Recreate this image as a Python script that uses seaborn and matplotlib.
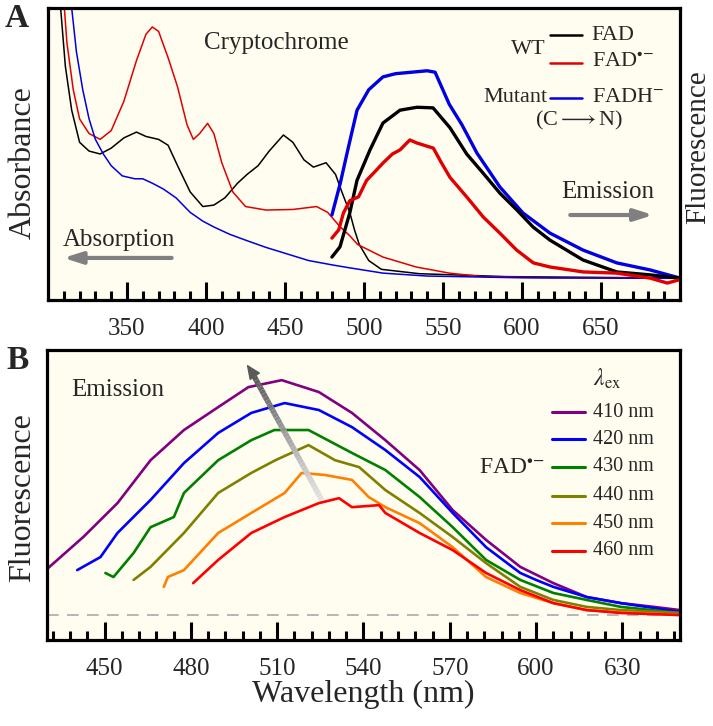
import numpy as np
import pandas as pd
import matplotlib
matplotlib.use('Agg')
import matplotlib.pyplot as plt
from matplotlib.collections import LineCollection
import seaborn as sns

sns.set_style('ticks')
plt.rcParams['font.family'] = ['Liberation Serif', 'DejaVu Serif']
plt.rcParams['mathtext.fontset'] = 'stix'

# ---- panel A: absorption (thin) ----
fad_abs_nm = [305, 308, 311, 315, 320, 326, 333, 340, 348, 356, 362, 370, 376, 382, 390, 398, 405, 412,
              420, 426, 433, 440, 449, 455, 462, 468, 476, 482, 486, 491, 494, 497, 503, 511, 535, 590, 700]
fad_abs_y = [140, 100, 80, 65, 54, 51, 50, 52, 55.5, 57.5, 56, 55, 53, 46, 37, 32, 32.5, 35,
             40, 43, 46, 51, 56.5, 54, 48, 45.5, 47, 43, 37, 30, 24, 19, 13.5, 10.5, 9, 8, 7.5]

sq_abs_nm = [306, 309, 312, 316, 320, 326, 333, 340, 348, 356, 362, 366, 370, 376, 382, 388, 392, 396,
             401, 405, 410, 417, 425, 438, 455, 470, 477, 485, 491, 496, 512, 533, 554, 575, 620, 700]
sq_abs_y = [140, 110, 88, 72, 62, 57, 55, 58, 68, 82, 91, 93.5, 92, 83, 73, 60, 55, 57,
            60.5, 57, 47, 37, 32, 30.8, 31, 32, 30, 25, 22, 19, 14.7, 11.3, 9.2, 8, 7.6, 7.5]

hq_abs_nm = [312, 315, 318, 322, 326, 330, 335, 340, 347, 355, 360, 366, 373, 381, 390, 398, 405, 415,
             425, 438, 450, 465, 480, 491, 512, 540, 600, 700]
hq_abs_y = [110, 100, 85, 72, 62, 55, 50, 46, 42.5, 41.5, 41.5, 40, 38, 35, 30, 27, 25, 22.5,
            20.5, 18, 16, 13.5, 12, 11, 9.2, 8.2, 7.6, 7.4]

# ---- panel A: emission (thick) ----
fad_em_nm = [479.7, 484.8, 491, 495.6, 503.8, 512, 522.8, 533.5, 543.7, 554.4, 565, 575.3, 586,
             596.8, 607, 617.7, 638.6, 660, 681, 700]
fad_em_y = [14.7, 18.2, 29.8, 41, 51.4, 60.6, 65, 66, 65.8, 59, 50, 43.5, 36.6,
            30.8, 25, 20.5, 13.7, 9.6, 8.6, 7.5]

sq_em_nm = [479.7, 484, 487, 491, 496.5, 501.7, 507, 512.2, 518, 522.8, 529, 533.3, 538, 543.9, 549,
            554.4, 565, 575.5, 586, 596.6, 607.2, 617.7, 638.8, 660, 681, 692, 700]
sq_em_y = [21.2, 24, 29.8, 34, 35.3, 41, 44, 47, 50, 51.4, 54.8, 53.8, 53, 52, 47,
           42, 35.3, 28.4, 22.9, 17.1, 12.7, 11.3, 9.6, 9.2, 7.5, 5.8, 7]

hq_em_nm = [479.7, 485, 490, 495.6, 503, 512, 520, 530, 540, 545, 554, 562, 571.5, 586, 600.6,
            617.7, 638.6, 660, 681, 700]
hq_em_y = [29.1, 40, 52, 65, 72, 76.4, 77.5, 78, 78.5, 78, 67, 60, 50.3, 38.7, 29.8,
           22.9, 17.1, 12.7, 10.3, 7.5]

# ---- panel B: FAD radical emission at several excitation wavelengths ----
ex_labels = ['410 nm', '420 nm', '430 nm', '440 nm', '450 nm', '460 nm']
ex_colors = ['#800080', '#0000FF', '#008000', '#808000', '#FF8000', '#FF0000']

em410_nm = [430.4, 442.6, 454.5, 466, 477.6, 489.5, 500, 511.6, 524.5, 536, 547.6, 559.5, 571,
            582.6, 594.5, 606, 617.6, 629.5, 641, 650]
em410_y = [16.2, 26.9, 38.6, 53.4, 63.8, 71.7, 78.6, 81, 76.9, 69.7, 60.3, 50, 36.2,
           25.9, 16.6, 11, 6.2, 4.1, 2.8, 1.7]
em420_nm = [440.5, 448.6, 454.5, 466, 477.6, 489.5, 501, 512.6, 524.5, 536, 547.6, 559.5, 571,
            582.6, 594.5, 600, 606, 617.6, 629.5, 641, 650]
em420_y = [15.5, 20, 28.3, 39.7, 52.4, 62.8, 69.7, 73.1, 70.7, 64.8, 56.9, 47.6, 35.2,
           23.4, 14.5, 12.1, 9.7, 6.2, 4.1, 2.4, 1]
em430_nm = [450.3, 453.1, 460.1, 466, 474.1, 477.6, 489.5, 501, 509, 520.9, 536, 547.6, 559.5,
            571, 582.6, 594.5, 606, 617.6, 629.5, 650]
em430_y = [14.5, 13.1, 21.4, 30.3, 33.8, 42.1, 53.4, 60.3, 63.8, 63.8, 55.9, 50, 40.7,
           30.3, 19, 12.1, 7.6, 5.2, 2.8, 0.7]
em440_nm = [460.1, 466, 477.6, 489.5, 501, 509.4, 520.9, 530.1, 538.5, 547.6, 559.5, 571, 582.6,
            594.5, 606, 617.6, 629.5, 650]
em440_y = [12.1, 16.6, 28.3, 42.1, 49, 53.4, 58.6, 53.4, 51, 43.1, 35.2, 26.9, 17.9,
           9.7, 5.2, 2.8, 1.7, 0.7]
em450_nm = [470.6, 472, 477.6, 489.5, 501, 512.6, 518.5, 526.6, 536, 541.8, 547.6, 559.5, 571,
            582.6, 594.5, 606, 617.6, 629.5, 650]
em450_y = [9.7, 13.1, 15.5, 28.3, 35.2, 42.1, 49, 48.3, 46.6, 40.7, 37.2, 31.7, 23.4,
           13.1, 7.6, 4.1, 1.7, 1, 0]
em460_nm = [480.8, 489.5, 501, 512.6, 524.5, 531.5, 536, 545.4, 547.6, 559.5, 571, 582.6, 594.5,
            606, 617.6, 629.5, 650]
em460_y = [11, 19, 28.3, 33.8, 38.6, 40.3, 37.2, 37.9, 35.2, 28.3, 22.4, 14.5, 8.6,
           4.1, 1.7, 0.7, 0]

em_nm_list = [em410_nm, em420_nm, em430_nm, em440_nm, em450_nm, em460_nm]
em_y_list = [em410_y, em420_y, em430_y, em440_y, em450_y, em460_y]

bg = '#FFFDF0'
tick_fs = 18

fig = plt.figure(figsize=(7.13, 7.26), dpi=100)
axA = fig.add_axes([0.0673, 0.5868, 0.8864, 0.4022])
axB = fig.add_axes([0.0659, 0.1185, 0.8878, 0.3994])


def style_axis(ax, xlim, ylim, major, minor):
    ax.set_facecolor(bg)
    ax.set_xlim(*xlim)
    ax.set_ylim(*ylim)
    ax.set_xticks(np.arange(major[0], major[1] + 1, major[2]))
    ax.set_xticks(np.arange(minor[0], minor[1] + 0.1, minor[2]), minor=True)
    ax.set_yticks([])
    for s in ax.spines.values():
        s.set_linewidth(2.3)
        s.set_color('black')
        s.set_visible(True)
    ax.tick_params(axis='x', which='major', direction='in', length=13, width=2.2, pad=13,
                   labelsize=tick_fs, top=False, color='black')
    ax.tick_params(axis='x', which='minor', direction='in', length=6.5, width=2.2, top=False,
                   color='black')
    ax.grid(False)


# ---------------- panel A ----------------
style_axis(axA, (300, 700), (0, 100), (350, 650, 50), (310, 690, 10))
abs_df = pd.concat([
    pd.DataFrame({'nm': fad_abs_nm, 'y': fad_abs_y, 's': 'FAD'}),
    pd.DataFrame({'nm': sq_abs_nm, 'y': sq_abs_y, 's': 'FADsq'}),
    pd.DataFrame({'nm': hq_abs_nm, 'y': hq_abs_y, 's': 'FADH'}),
])
pal_A = {'FAD': 'black', 'FADsq': '#E00000', 'FADH': '#0000E0'}
sns.lineplot(data=abs_df, x='nm', y='y', hue='s', palette=pal_A, lw=1.1, sort=False,
             estimator=None, legend=False, ax=axA)

em_df = pd.concat([
    pd.DataFrame({'nm': hq_em_nm, 'y': hq_em_y, 's': 'FADH'}),
    pd.DataFrame({'nm': fad_em_nm, 'y': fad_em_y, 's': 'FAD'}),
    pd.DataFrame({'nm': sq_em_nm, 'y': sq_em_y, 's': 'FADsq'}),
])
sns.lineplot(data=em_df, x='nm', y='y', hue='s', palette=pal_A, lw=2.4, sort=False,
             estimator=None, legend=False, ax=axA)
axA.set_xlim(300, 700)
axA.set_ylim(0, 100)
axA.set_xlabel('')
axA.set_ylabel('')

fig.text(0.032, 0.776, 'Absorbance', fontsize=23, rotation=90, ha='center', va='center')
fig.text(0.979, 0.798, 'Fluorescence', fontsize=21, rotation=90, ha='center', va='center')

axA.text(0.362, 0.88, 'Cryptochrome', transform=axA.transAxes, fontsize=18, ha='center', va='center')
axA.text(0.112, 0.205, 'Absorption', transform=axA.transAxes, fontsize=18, ha='center', va='center')
axA.annotate('', xy=(0.02, 0.144), xytext=(0.2, 0.144), xycoords='axes fraction',
             arrowprops=dict(arrowstyle='-|>,head_length=1.1,head_width=0.35', color='#808080', lw=3))
axA.text(0.885, 0.37, 'Emission', transform=axA.transAxes, fontsize=18, ha='center', va='center')
axA.annotate('', xy=(0.962, 0.291), xytext=(0.822, 0.291), xycoords='axes fraction',
             arrowprops=dict(arrowstyle='-|>,head_length=1.1,head_width=0.35', color='#808080', lw=3))

leg_rows = [(0.907, 'black', 'FAD'), (0.812, '#E00000', r'FAD$^{\bullet\!-}$'),
            (0.692, '#0000E0', r'FADH$^{-}$')]
for yy, c, lab in leg_rows:
    axA.plot([0.794, 0.845], [yy, yy], color=c, lw=1.8, transform=axA.transAxes)
    axA.text(0.86, yy, lab, transform=axA.transAxes, fontsize=16, ha='left', va='center')
axA.text(0.788, 0.857, 'WT', transform=axA.transAxes, fontsize=16, ha='right', va='center')
axA.text(0.79, 0.692, 'Mutant', transform=axA.transAxes, fontsize=16, ha='right', va='center')
axA.text(0.84, 0.615, r'(C$\longrightarrow$N)', transform=axA.transAxes, fontsize=16,
         ha='center', va='center')

fig.text(0.024, 0.974, 'A', fontsize=24, fontweight='bold', ha='center', va='center')

# ---------------- panel B ----------------
style_axis(axB, (430, 650), (-8.6, 91.4), (450, 630, 30), (432, 648, 6))
b_df = pd.concat([pd.DataFrame({'nm': n, 'y': y, 'ex': lab})
                  for n, y, lab in zip(em_nm_list, em_y_list, ex_labels)])
sns.lineplot(data=b_df, x='nm', y='y', hue='ex', palette=dict(zip(ex_labels, ex_colors)),
             lw=1.9, sort=False, estimator=None, legend=False, ax=axB)
axB.axhline(0, color='#AAAAAA', lw=1.2, ls=(0, (7, 5)), zorder=0)
axB.set_ylabel('')
axB.set_xlabel('Wavelength (nm)', fontsize=23, labelpad=0)
fig.text(0.031, 0.315, 'Fluorescence', fontsize=23, rotation=90, ha='center', va='center')

axB.text(0.112, 0.862, 'Emission', transform=axB.transAxes, fontsize=18, ha='center', va='center')
axB.text(0.885, 0.9, r'$\lambda_{\rm ex}$', transform=axB.transAxes, fontsize=17, ha='center', va='center')
leg_y = [0.786, 0.693, 0.597, 0.497, 0.403, 0.307]
for yy, c, lab in zip(leg_y, ex_colors, ex_labels):
    axB.plot([0.798, 0.85], [yy, yy], color=c, lw=2.2, transform=axB.transAxes)
    axB.text(0.862, yy, lab, transform=axB.transAxes, fontsize=14.5, ha='left', va='center')
axB.text(0.787, 0.59, r'FAD$^{\bullet\!-}$', transform=axB.transAxes, fontsize=17,
         ha='right', va='center')

# gradient arrow (light tail -> dark head)
t = np.linspace(0, 1, 40)
x0, y0, x1, y1 = 0.434, 0.483, 0.322, 0.93
px = x0 + (x1 - x0) * t
py = y0 + (y1 - y0) * t
segs = np.stack([np.column_stack([px[:-1], py[:-1]]), np.column_stack([px[1:], py[1:]])], axis=1)
cols = plt.cm.Greys(0.2 + 0.55 * t[:-1])
lc = LineCollection(segs, colors=cols, linewidths=4, transform=axB.transAxes, capstyle='butt')
axB.add_collection(lc)
axB.annotate('', xy=(0.313, 0.958), xytext=(0.325, 0.92), xycoords='axes fraction',
             arrowprops=dict(arrowstyle='-|>,head_length=0.9,head_width=0.4', color='#5A5A5A', lw=1))

fig.text(0.024, 0.503, 'B', fontsize=24, fontweight='bold', ha='center', va='center')

fig.savefig('out.png', dpi=100, facecolor='white')
